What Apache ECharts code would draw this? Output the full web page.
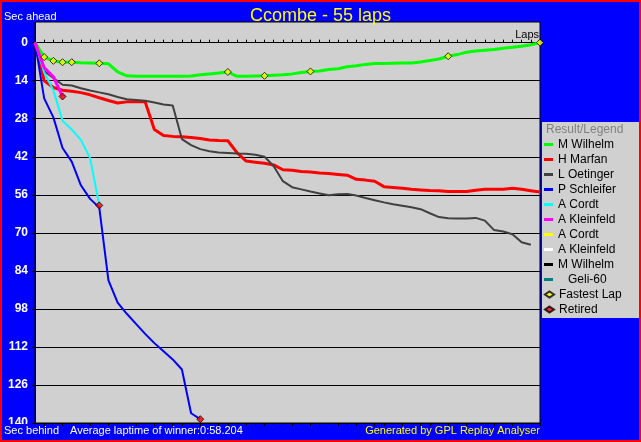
<!DOCTYPE html>
<html>
<head>
<meta charset="utf-8">
<script src="https://cdn.jsdelivr.net/npm/echarts@6.0.0/dist/echarts.min.js"></script>
<style>
html, body { margin: 0; padding: 0; background: #0000ff; }
#wrap { position: relative; width: 641px; height: 442px; }
#chart { width: 641px; height: 442px; }
#frame { position: absolute; left: 0; top: 0; width: 641px; height: 442px; box-sizing: border-box; border: 2px solid #ff0000; pointer-events: none; }
</style>
</head>
<body>
<div id="wrap"><div id="chart"></div><div id="frame"></div></div>
<script>
// seconds behind the winner's average pace, index = lap
var wilhelm = [0, 5.3, 6.7, 7.2, 7.2, 7.4, 7.5, 7.6, 7.8, 10.8, 12.2, 12.4, 12.4, 12.4, 12.4, 12.4, 12.4, 12.3, 11.8, 11.5, 11.2, 10.8,
    12.4, 12.4, 12.3, 12.2, 12.0, 11.8, 11.5, 11.0, 10.6, 10.4, 9.9, 9.6, 8.9, 8.5, 8.0, 7.7, 7.7, 7.6, 7.5, 7.5, 7.1, 6.6, 6.0,
    5.0, 4.4, 3.5, 3.1, 2.8, 2.5, 2.1, 1.7, 1.3, 0.8, 0];
var marfan = [0, 14, 16.5, 17.5, 17.9, 18.4, 19.2, 20.3, 21.3, 22.2, 21.8, 21.8, 21.8, 32, 34.2, 34.5, 34.6, 34.9, 35.3, 35.8, 36, 36.1,
    40.5, 43.6, 44, 44.4, 45, 46.8, 47, 47.4, 47.6, 48, 48.2, 48.5, 48.8, 50.3, 50.6, 51, 53, 53.3, 53.6, 54, 54.2, 54.4, 54.5,
    54.8, 54.8, 54.8, 54.3, 54, 54, 54, 53.6, 54, 54.5, 55];
var oetinger = [0, 10.5, 13, 15.5, 15.8, 16.8, 17.6, 18.3, 19, 20, 20.8, 21.1, 21.4, 22, 22.8, 23.1, 35.5, 37.7, 39.2, 40, 40.4, 40.6,
    40.8, 40.9, 41.3, 42, 45.5, 51, 53.2, 54, 54.8, 55.5, 56.2, 55.8, 55.7, 56.3, 57.2, 58, 58.8, 59.5, 60, 60.6, 61.3, 62.8, 64.2,
    64.6, 64.7, 64.7, 64.5, 65.5, 69, 69.5, 70.5, 73.5, 74.4];
var schleifer = [0, 20.5, 27.5, 38.8, 43.8, 52.5, 57.5, 60.7, 87.5, 95.7, 99.8, 103.5, 107.2, 110.6, 113.6, 116.6, 120.3, 136.4, 138.6];
var cordt = [0, 11, 17.5, 28.8, 32, 35.8, 42.5, 59.9];
var kleinfeld = [0, 9.2, 12.6, 19.8];

var driverNames = ['M Wilhelm', 'H Marfan', 'L Oetinger', 'P Schleifer', 'A Cordt', 'A Kleinfeld', 'A Cordt ', 'A Kleinfeld ', 'M Wilhelm ', '   Geli-60'];
var driverData = [wilhelm, marfan, oetinger, schleifer, cordt, kleinfeld, [], [], [], []];
var driverColors = ['#00ff00', '#ff0000', '#404040', '#0000ff', '#00ffff', '#ff00ff', '#ffff00', '#ffffff', '#000000', '#008080'];
var driverWidths = [3, 3, 2, 2, 2, 3, 2, 2, 2, 2];

var fastestLaps = [1, 2, 3, 4, 7, 21, 25, 30, 45, 55];   // laps on the M Wilhelm line
var retiredIdx = [5, 4, 3];                                // A Kleinfeld, A Cordt, P Schleifer

var yTicks = [0, 14, 28, 42, 56, 70, 84, 98, 112, 126, 140];
var totalLaps = 55;

var FONT = '"Liberation Sans", Arial, sans-serif';

var chart = echarts.init(document.getElementById('chart'));

var series = driverNames.map(function (name, k) {
    return {
        name: name,
        type: 'line',
        data: driverData[k].map(function (v, i) { return [i, v]; }),
        symbol: 'none',
        z: 2 + k * 0.01,
        lineStyle: { color: driverColors[k], width: driverWidths[k] },
        itemStyle: { color: driverColors[k] }
    };
});
series.push({
    name: 'Fastest Lap',
    type: 'scatter',
    z: 5,
    symbol: 'diamond',
    symbolSize: 7,
    itemStyle: { color: '#ffff00', borderColor: '#000', borderWidth: 1 },
    data: fastestLaps.map(function (l) { return [l, wilhelm[l]]; })
});
series.push({
    name: 'Retired',
    type: 'scatter',
    z: 5,
    symbol: 'diamond',
    symbolSize: 7,
    itemStyle: { color: '#ff0000', borderColor: '#000', borderWidth: 1 },
    data: retiredIdx.map(function (k) {
        var arr = driverData[k];
        return [arr.length - 1, arr[arr.length - 1]];
    })
});

var option = {
    backgroundColor: '#0000ff',
    animation: false,
    title: {
        text: 'Ccombe - 55 laps',
        left: 'center',
        top: 2,
        textStyle: { color: '#ffff00', fontSize: 18, fontWeight: 'normal', fontFamily: FONT }
    },
    grid: {
        left: 35, right: 101, top: 22, bottom: 19,
        show: true,
        backgroundColor: '#d0d0d0',
        borderColor: '#000',
        borderWidth: 1,
        outerBoundsMode: 'none'
    },
    legend: [{
        orient: 'vertical',
        left: 544,
        top: 137,
        padding: 0,
        itemGap: 0,
        itemWidth: 9,
        itemHeight: 3,
        icon: 'rect',
        selectedMode: false,
        data: driverNames,
        textStyle: { color: '#000', fontSize: 12, lineHeight: 15, fontFamily: FONT }
    }, {
        orient: 'vertical',
        left: 544,
        top: 287,
        padding: 0,
        itemGap: 0,
        itemWidth: 9,
        itemHeight: 6,
        icon: 'diamond',
        selectedMode: false,
        data: ['Fastest Lap', 'Retired'],
        textStyle: { color: '#000', fontSize: 12, lineHeight: 15, fontFamily: FONT }
    }],
    xAxis: [{
        type: 'value',
        min: 0,
        max: totalLaps,
        interval: 1,
        position: 'bottom',
        name: 'Laps',
        nameLocation: 'end',
        nameGap: -1,
        nameTextStyle: { color: '#000', fontSize: 11, fontFamily: FONT, align: 'right', verticalAlign: 'bottom', padding: [0, 0, 2, 0] },
        axisLine: { onZero: true, lineStyle: { color: '#000', width: 1 } },
        axisTick: { show: true, inside: true, length: 3, lineStyle: { color: '#000' } },
        axisLabel: { show: false },
        splitLine: { show: false }
    }, {
        type: 'value',
        min: 0,
        max: totalLaps,
        interval: 1,
        position: 'bottom',
        axisLine: { onZero: true, show: false },
        axisTick: { show: true, inside: false, length: 3, lineStyle: { color: '#000' } },
        axisLabel: { show: false },
        splitLine: { show: false }
    }],
    yAxis: {
        type: 'value',
        inverse: true,
        min: -7.6,
        max: 140,
        axisLine: { show: true, lineStyle: { color: '#000' } },
        axisTick: { show: true, inside: false, length: 3, customValues: yTicks, lineStyle: { color: '#000' } },
        axisLabel: {
            customValues: yTicks,
            color: '#fff',
            fontWeight: 'bold',
            fontSize: 12,
            fontFamily: FONT,
            margin: 7
        },
        splitLine: { show: true, lineStyle: { color: '#000', width: 1 } }
    },
    graphic: [
        { type: 'rect', z: 100, shape: { x: 2, y: 424, width: 32, height: 16 }, style: { fill: '#0000ff' } },
        { type: 'rect', z: 1, shape: { x: 542, y: 122, width: 97, height: 196 }, style: { fill: '#d0d0d0' } },
        { type: 'text', z: 101, x: 546, y: 130, style: { text: 'Result/Legend', fill: '#808080', font: '12px ' + FONT, textVerticalAlign: 'middle' } },
        { type: 'text', z: 101, x: 4, y: 16.5, style: { text: 'Sec ahead', fill: '#fff', font: '11px ' + FONT, textVerticalAlign: 'middle' } },
        { type: 'text', z: 101, x: 4, y: 431, style: { text: 'Sec behind', fill: '#fff', font: '11px ' + FONT, textVerticalAlign: 'middle' } },
        { type: 'text', z: 101, x: 70, y: 431, style: { text: 'Average laptime of winner:0:58.204', fill: '#fff', font: '11px ' + FONT, textVerticalAlign: 'middle' } },
        { type: 'text', z: 101, x: 540, y: 431, style: { text: 'Generated by GPL Replay Analyser', fill: '#ffff00', font: '11px ' + FONT, textAlign: 'right', textVerticalAlign: 'middle' } }
    ],
    series: series
};

chart.setOption(option);
</script>
</body>
</html>
